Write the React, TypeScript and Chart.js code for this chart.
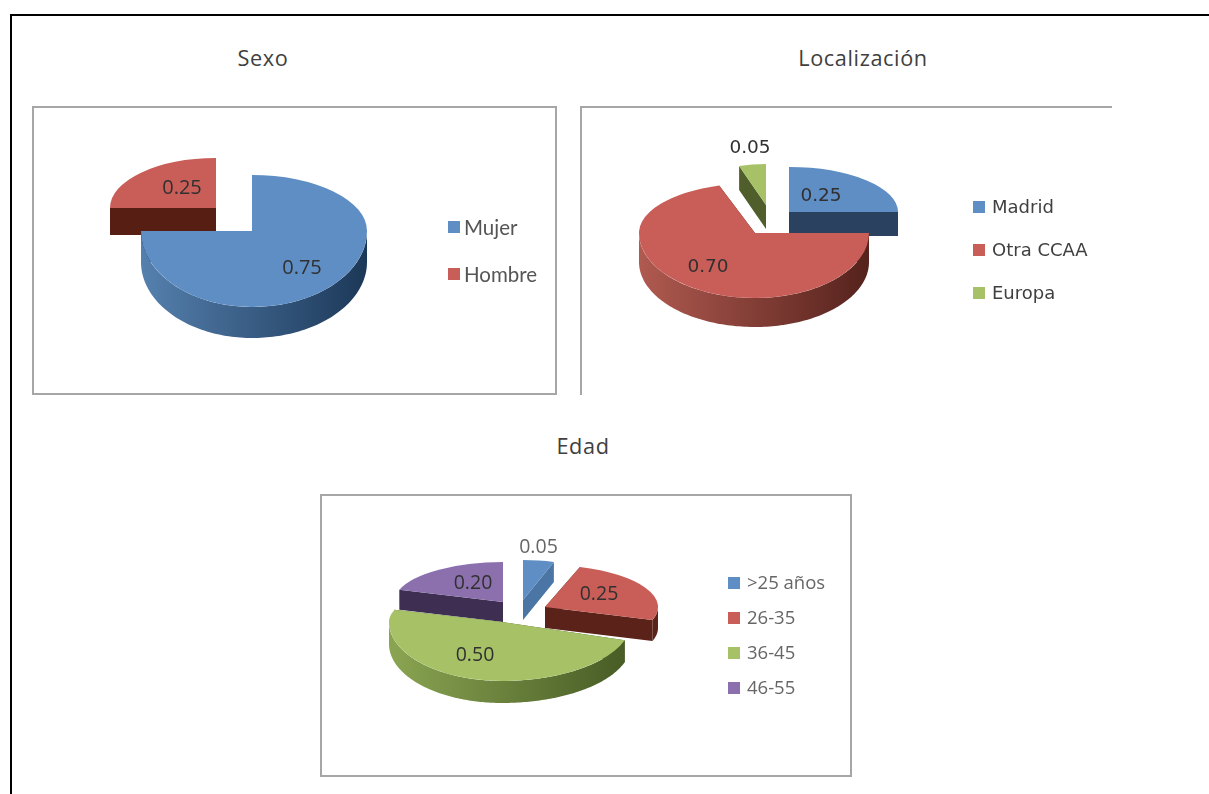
import React, { useEffect, useRef } from "react";
import { Chart, registerables } from "chart.js";

Chart.register(...registerables);

// ---- Survey data ----
const sexoLabels = ["Mujer", "Hombre"];
const sexoValues = [0.75, 0.25];
const localizacionLabels = ["Madrid", "Otra CCAA", "Europa"];
const localizacionValues = [0.25, 0.7, 0.05];
const edadLabels = [">25 años", "26-35", "36-45", "46-55"];
const edadValues = [0.05, 0.25, 0.5, 0.2];

// ---- Palette ----
const BLUE = "#5F8EC5";
const RED = "#C95E59";
const GREEN = "#A7C266";
const PURPLE = "#8C70AE";

type Slice = {
  cx: number; cy: number; rxL: number; rxR: number; ryT: number; ryB: number;
  depth: number; cut: string; rim: [string, string]; lx: number; ly: number; labelColor?: string;
};
type Pie = {
  title: string; titleX: number; titleY: number; titleFont: string; titleSize: number;
  box: { x: number; y: number; w: number; h: number };
  borders: string;
  labels: string[]; values: number[]; colors: string[];
  slices: Slice[]; order: number[];
  labelFont: string; labelSize: number;
  legendFont: string; legendSize: number; legendColor: string;
  swatchX: number; swatchSize: number; textX: number; legendY: number[];
};

const BLUE_RIM: [string, string] = ["#5580AE", "#1C3858"];
const RED_RIM: [string, string] = ["#B05A50", "#55221C"];
const GREEN_RIM: [string, string] = ["#8AA552", "#465A24"];

const pies: Pie[] = [
  {
    title: "Sexo", titleX: 263, titleY: 58, titleFont: "'Open Sans'", titleSize: 21.7,
    box: { x: 32, y: 106, w: 525, h: 289 }, borders: "all",
    labels: sexoLabels, values: sexoValues, colors: [BLUE, RED],
    slices: [
      { cx: 252, cy: 231, rxL: 111, rxR: 115, ryT: 56, ryB: 76, depth: 31, cut: "#1C3858", rim: BLUE_RIM, lx: 302, ly: 267 },
      { cx: 216, cy: 208, rxL: 106, rxR: 106, ryT: 50, ryB: 50, depth: 27, cut: "#571F14", rim: RED_RIM, lx: 182, ly: 187 },
    ],
    order: [1, 0],
    labelFont: "'Open Sans'", labelSize: 20,
    legendFont: "Lato", legendSize: 20.5, legendColor: "#555555",
    swatchX: 448, swatchSize: 12, textX: 464, legendY: [227, 274],
  },
  {
    title: "Localización", titleX: 863, titleY: 58, titleFont: "'Open Sans'", titleSize: 21.7,
    box: { x: 580, y: 106, w: 532, h: 289 }, borders: "topleft",
    labels: localizacionLabels, values: localizacionValues, colors: [BLUE, RED, GREEN],
    slices: [
      { cx: 789, cy: 212, rxL: 109, rxR: 109, ryT: 45, ryB: 45, depth: 24, cut: "#2A4260", rim: BLUE_RIM, lx: 821, ly: 195 },
      { cx: 755, cy: 233, rxL: 116, rxR: 114, ryT: 50, ryB: 65, depth: 29, cut: "#55221C", rim: RED_RIM, lx: 708, ly: 266 },
      { cx: 766, cy: 205, rxL: 87, rxR: 87, ryT: 41, ryB: 41, depth: 24, cut: "#4F5E2A", rim: GREEN_RIM, lx: 750, ly: 147 },
    ],
    order: [0, 2, 1],
    labelFont: "'DejaVu Sans'", labelSize: 18.5,
    legendFont: "'DejaVu Sans'", legendSize: 18, legendColor: "#404040",
    swatchX: 973, swatchSize: 12, textX: 992, legendY: [207, 250, 293],
  },
  {
    title: "Edad", titleX: 583, titleY: 446, titleFont: "'Open Sans'", titleSize: 21.7,
    box: { x: 320, y: 494, w: 532, h: 283 }, borders: "all",
    labels: edadLabels, values: edadValues, colors: [BLUE, RED, GREEN, PURPLE],
    slices: [
      { cx: 523, cy: 600, rxL: 100, rxR: 100, ryT: 40, ryB: 40, depth: 20, cut: "#4A75A4", rim: BLUE_RIM, lx: 538.5, ly: 546, labelColor: "#666666" },
      { cx: 545, cy: 607, rxL: 113, rxR: 113, ryT: 42, ryB: 42, depth: 21, cut: "#5A2218", rim: ["#5A2218", "#5A2218"], lx: 599, ly: 593 },
      { cx: 502, cy: 622, rxL: 113, rxR: 129, ryT: 40, ryB: 59, depth: 22, cut: "#465A24", rim: GREEN_RIM, lx: 475, ly: 654 },
      { cx: 503, cy: 602, rxL: 109, rxR: 109, ryT: 40, ryB: 40, depth: 20, cut: "#3D2E52", rim: ["#4A3A62", "#3D2E52"], lx: 473, ly: 582 },
    ],
    order: [0, 3, 1, 2],
    labelFont: "'Open Sans'", labelSize: 19.5,
    legendFont: "'Open Sans'", legendSize: 18.5, legendColor: "#666666",
    swatchX: 728, swatchSize: 12, textX: 747, legendY: [583, 618, 653, 688],
  },
];

// Point on the flattened rim of a slice, for a canvas angle in radians.
function rimPoint(s: Slice, a: number): [number, number] {
  const c = Math.cos(a);
  const d = Math.sin(a);
  return [s.cx + c * (c > 0 ? s.rxR : s.rxL), s.cy + d * (d > 0 ? s.ryB : s.ryT)];
}

// Draws the library's arcs with a side wall below them, tilted by a scale transform,
// together with value labels and the legend.
function pie3dPlugin(p: Pie) {
  return {
    id: "pie3d",
    beforeDatasetDraw(chart: any) {
      const ctx: CanvasRenderingContext2D = chart.ctx;
      const arcs = chart.getDatasetMeta(0).data;
      ctx.save();
      ctx.translate(-p.box.x, -p.box.y);
      for (const i of p.order) {
        const arc = arcs[i];
        const s = p.slices[i];
        const start = arc.startAngle;
        const end = arc.endAngle;

        // Radial cut faces
        ctx.fillStyle = s.cut;
        for (const a of [start, end]) {
          const [ex, ey] = rimPoint(s, a);
          ctx.beginPath();
          ctx.moveTo(s.cx, s.cy);
          ctx.lineTo(ex, ey);
          ctx.lineTo(ex, ey + s.depth);
          ctx.lineTo(s.cx, s.cy + s.depth);
          ctx.closePath();
          ctx.fill();
        }

        // Curved outer wall, only on the near half of the rim
        const near: [number, number][] = [];
        const steps = 180;
        for (let k = 0; k <= steps; k++) {
          const a = start + ((end - start) * k) / steps;
          if (Math.sin(a) >= 0) near.push(rimPoint(s, a));
        }
        if (near.length > 1) {
          const grad = ctx.createLinearGradient(s.cx - s.rxL, 0, s.cx + s.rxR, 0);
          grad.addColorStop(0, s.rim[0]);
          grad.addColorStop(1, s.rim[1]);
          ctx.fillStyle = grad;
          ctx.beginPath();
          near.forEach(([x, y], k) => (k ? ctx.lineTo(x, y) : ctx.moveTo(x, y)));
          for (let k = near.length - 1; k >= 0; k--) ctx.lineTo(near[k][0], near[k][1] + s.depth);
          ctx.closePath();
          ctx.fill();
        }

        // Top face: the arc element itself, squashed per quadrant
        const R = arc.outerRadius;
        for (const [qx, qy] of [[-1, -1], [1, -1], [-1, 1], [1, 1]]) {
          ctx.save();
          ctx.beginPath();
          ctx.rect(qx < 0 ? s.cx - 400 : s.cx, qy < 0 ? s.cy - 400 : s.cy, 400, 400);
          ctx.clip();
          ctx.translate(s.cx, s.cy);
          ctx.scale((qx < 0 ? s.rxL : s.rxR) / R, (qy < 0 ? s.ryT : s.ryB) / R);
          ctx.translate(-arc.x, -arc.y);
          arc.draw(ctx);
          ctx.restore();
        }
      }
      ctx.restore();
      return false;
    },
    afterDraw(chart: any) {
      const ctx: CanvasRenderingContext2D = chart.ctx;
      ctx.save();
      ctx.translate(-p.box.x, -p.box.y);
      ctx.textBaseline = "middle";

      // Value labels
      ctx.textAlign = "center";
      ctx.font = `${p.labelSize}px ${p.labelFont}`;
      p.values.forEach((v, i) => {
        const s = p.slices[i];
        ctx.fillStyle = s.labelColor || "#303030";
        ctx.fillText(v.toFixed(2), s.lx, s.ly + 1);
      });

      // Legend
      ctx.textAlign = "left";
      ctx.font = `${p.legendSize}px ${p.legendFont}`;
      p.labels.forEach((label, i) => {
        const y = p.legendY[i];
        ctx.fillStyle = p.colors[i];
        ctx.fillRect(p.swatchX, y - p.swatchSize / 2, p.swatchSize, p.swatchSize);
        ctx.fillStyle = p.legendColor;
        ctx.fillText(label, p.textX, y + 1);
      });
      ctx.restore();
    },
  };
}

function PieChart({ pie }: { pie: Pie }) {
  const ref = useRef<HTMLCanvasElement>(null);
  useEffect(() => {
    const chart = new Chart(ref.current!, {
      type: "pie",
      data: {
        labels: pie.labels,
        datasets: [{ data: pie.values, backgroundColor: pie.colors, borderWidth: 0 }],
      },
      options: {
        animation: false,
        responsive: false,
        plugins: { legend: { display: false }, tooltip: { enabled: false } },
      },
      plugins: [pie3dPlugin(pie)],
    } as any);
    return () => chart.destroy();
  }, [pie]);

  const { x, y, w, h } = pie.box;
  const line = "2px solid #A6A6A6";
  return (
    <>
      <div
        style={{
          position: "absolute", left: pie.titleX - 100, top: pie.titleY - 20, width: 200, height: 40,
          lineHeight: "40px", textAlign: "center", color: "#404040",
          fontFamily: pie.titleFont, fontSize: pie.titleSize, letterSpacing: 0.6,
        }}
      >
        {pie.title}
      </div>
      <div
        style={{
          position: "absolute", left: x, top: y, width: w, height: h, boxSizing: "border-box",
          borderTop: line, borderLeft: line,
          borderRight: pie.borders === "all" ? line : "none",
          borderBottom: pie.borders === "all" ? line : "none",
        }}
      />
      <canvas ref={ref} width={w} height={h} style={{ position: "absolute", left: x, top: y, width: w, height: h }} />
    </>
  );
}

export default function App() {
  return (
    <div style={{ position: "absolute", left: 0, top: 0, width: 1209, height: 794, overflow: "hidden", background: "#fff" }}>
      <div style={{ position: "absolute", left: 10, top: 14, width: 1199, height: 2, background: "#000" }} />
      <div style={{ position: "absolute", left: 10, top: 14, width: 2, height: 780, background: "#000" }} />
      {pies.map((pie) => (
        <PieChart key={pie.title} pie={pie} />
      ))}
    </div>
  );
}
